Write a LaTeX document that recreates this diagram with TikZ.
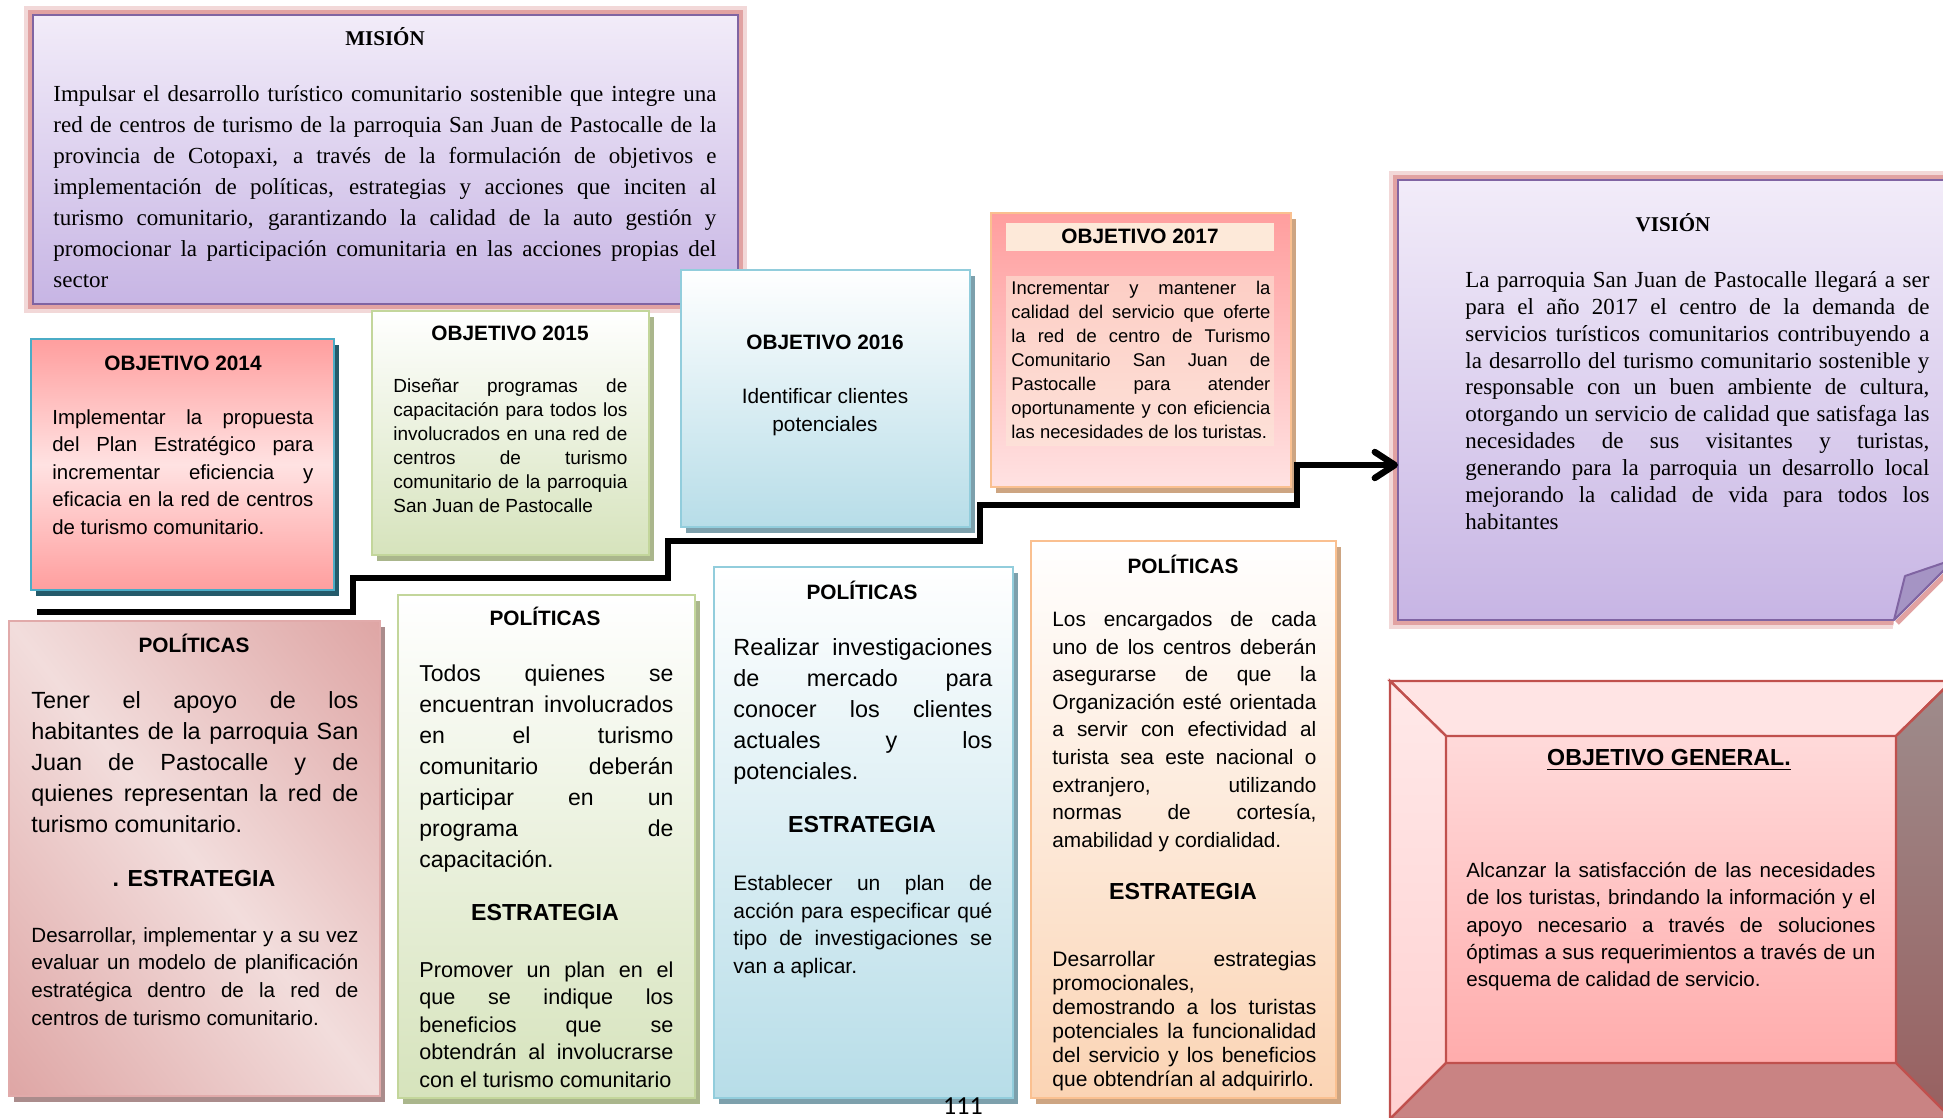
\documentclass[tikz,border=0pt]{standalone}
\usepackage{fontspec}
\setmainfont{Liberation Serif}
\setsansfont{Liberation Sans}
\newfontfamily\pagenumfont{Carlito}
\usetikzlibrary{arrows.meta, shadows}

\definecolor{MisionTop}{RGB}{242, 236, 249}
\definecolor{MisionBottom}{RGB}{199, 181, 228}
\definecolor{MisionLine}{RGB}{128, 100, 162}
\definecolor{GlowRed}{RGB}{205, 100, 100}
\definecolor{FlapPurple}{RGB}{165, 148, 196}
\definecolor{SalmonDeep}{RGB}{255, 158, 158}
\definecolor{SalmonLight}{RGB}{255, 226, 226}
\definecolor{TealLine}{RGB}{75, 172, 198}
\definecolor{TealShadow}{RGB}{36, 90, 106}
\definecolor{GreenFill}{RGB}{214, 227, 188}
\definecolor{GreenLine}{RGB}{195, 214, 155}
\definecolor{GreenShadow}{RGB}{170, 182, 140}
\definecolor{BlueFill}{RGB}{183, 221, 232}
\definecolor{BlueLine}{RGB}{146, 205, 220}
\definecolor{BlueShadow}{RGB}{125, 160, 172}
\definecolor{OrangeFill}{RGB}{251, 212, 180}
\definecolor{OrangeLine}{RGB}{250, 192, 144}
\definecolor{OrangeShadow}{RGB}{205, 165, 130}
\definecolor{PeachBand}{RGB}{253, 233, 217}
\definecolor{RoseDark}{RGB}{215, 145, 144}
\definecolor{RoseLight}{RGB}{242, 221, 220}
\definecolor{RoseLine}{RGB}{225, 170, 170}
\definecolor{RoseShadow}{RGB}{170, 140, 140}
\definecolor{BevelEdge}{RGB}{192, 80, 77}
\definecolor{BevelTop}{RGB}{255, 228, 228}
\definecolor{BevelLeftTop}{RGB}{255, 233, 233}
\definecolor{BevelLeftBottom}{RGB}{255, 208, 208}
\definecolor{BevelRightTop}{RGB}{158, 140, 140}
\definecolor{BevelRightBottom}{RGB}{152, 96, 96}
\definecolor{BevelBottom}{RGB}{201, 131, 131}
\definecolor{FaceTop}{RGB}{255, 218, 218}
\definecolor{FaceBottom}{RGB}{255, 172, 172}

\tolerance=9999
\hyphenpenalty=10000

\tikzset{
  panel/.style={anchor=north west, inner sep=0pt, outer sep=0pt, line width=1.2pt},
  glowbox/.style={panel, draw=MisionLine, top color=MisionTop, bottom color=MisionBottom,
    preaction={draw=GlowRed!25, line width=9pt}, preaction={draw=GlowRed!60, line width=5pt}},
  hardshadow/.style={drop shadow={shadow xshift=2.5pt, shadow yshift=-3pt, fill=#1, opacity=1}},
  headserif/.style={font=\rmfamily\bfseries\fontsize{10.5}{12}\selectfont},
  headsans/.style={font=\sffamily\bfseries\fontsize{10.4}{12}\selectfont},
  strathead/.style={font=\sffamily\bfseries\fontsize{11.6}{13}\selectfont},
  bodytext/.style={anchor=north west, inner sep=0pt, align=justify}
}

\begin{document}
\begin{tikzpicture}[x=0.5pt, y=-0.5pt]
    \useasboundingbox (0,0) rectangle (1943,1118);
    % mision
    \node[glowbox, minimum width=352.5pt, minimum height=144.5pt] (mision) at (33,15) {};
    \node[headserif] (misiontitle) at (385,37) {MISIÓN};
    \node[bodytext, text width=331.5pt, font=\rmfamily\fontsize{11.5}{15.5}\selectfont] (misiontext) at (53,85)
        {Impulsar el desarrollo turístico comunitario sostenible que integre una\linebreak
         red de centros de turismo de la parroquia San Juan de Pastocalle de la\linebreak
         provincia de Cotopaxi, a través de la formulación de objetivos e\linebreak
         implementación de políticas, estrategias y acciones que inciten al\linebreak
         turismo comunitario, garantizando la calidad de la auto gestión y\linebreak
         promocionar la participación comunitaria en las acciones propias del\linebreak
         sector};

    % vision
    \node[glowbox, minimum width=281pt, minimum height=220pt] (vision) at (1398,180) {};
    \fill[white] (1894,620) -- (1968,546) -- (1968,652) -- (1890,652) -- cycle;
    \draw[GlowRed!60, line width=2.5pt] (1897,623) -- (1963,557);
    \draw[MisionLine, line width=1.2pt] (1894,620) -- (1960,554);
    \filldraw[fill=FlapPurple, draw=MisionLine, line width=1pt, line join=round]
        (1894,620) -- (1905,576) -- (1955,559) -- cycle;
    \node[headserif] (visiontitle) at (1673,223) {VISIÓN};
    \node[bodytext, text width=232pt, font=\rmfamily\fontsize{11.5}{13.45}\selectfont] (visiontext) at (1465,271)
        {La parroquia San Juan de Pastocalle llegará a ser\linebreak
         para el año 2017 el centro de la demanda de\linebreak
         servicios turísticos comunitarios contribuyendo a\linebreak
         la desarrollo del turismo comunitario sostenible y\linebreak
         responsable con un buen ambiente de cultura,\linebreak
         otorgando un servicio de calidad que satisfaga las\linebreak
         necesidades de sus visitantes y turistas,\linebreak
         generando para la parroquia un desarrollo local\linebreak
         mejorando la calidad de vida para todos los\linebreak
         habitantes};

    % objetivo 2014
    \node[panel, draw=TealLine, hardshadow=TealShadow, top color=SalmonDeep, bottom color=SalmonDeep,
          middle color=SalmonLight, minimum width=151.5pt, minimum height=125.5pt] (obj14) at (31,339) {};
    \node[headsans] (obj14title) at (183,363) {OBJETIVO 2014};
    \node[bodytext, text width=130.5pt, font=\sffamily\fontsize{10.2}{13.8}\selectfont] (obj14text) at (52,409)
        {Implementar la propuesta\linebreak
         del Plan Estratégico para\linebreak
         incrementar eficiencia y\linebreak
         eficacia en la red de centros\linebreak
         de turismo comunitario.};

    % objetivo 2015
    \node[panel, draw=GreenLine, hardshadow=GreenShadow, top color=white, bottom color=GreenFill,
          minimum width=138.5pt, minimum height=122pt] (obj15) at (372,311) {};
    \node[headsans] (obj15title) at (510,333) {OBJETIVO 2015};
    \node[bodytext, text width=117pt, font=\sffamily\fontsize{9.5}{12}\selectfont] (obj15text) at (393,378)
        {Diseñar programas de\linebreak
         capacitación para todos los\linebreak
         involucrados en una red de\linebreak
         centros de turismo\linebreak
         comunitario de la parroquia\linebreak
         San Juan de Pastocalle};

    % objetivo 2016
    \node[panel, draw=BlueLine, hardshadow=BlueShadow, top color=white, bottom color=BlueFill,
          minimum width=144.5pt, minimum height=128.5pt] (obj16) at (681,270) {};
    \node[headsans] (obj16title) at (825,342) {OBJETIVO 2016};
    \node[anchor=north, inner sep=0pt, align=center, font=\sffamily\fontsize{10.4}{13.8}\selectfont]
        (obj16text) at (825,388) {Identificar clientes\\potenciales};

    % objetivo 2017
    \node[panel, draw=OrangeLine, hardshadow=OrangeShadow, top color=SalmonDeep, bottom color=SalmonLight,
          minimum width=150pt, minimum height=137pt] (obj17) at (991,213) {};
    \node[panel, fill=PeachBand, minimum width=134pt, minimum height=14pt] (obj17band) at (1006,223) {};
    \node[panel, fill=PeachBand, fill opacity=0.55, minimum width=134pt, minimum height=85pt] (obj17back) at (1006,276) {};
    \node[headsans] (obj17title) at (1140,236) {OBJETIVO 2017};
    \node[bodytext, text width=129.5pt, font=\sffamily\fontsize{9.2}{12}\selectfont] (obj17text) at (1011,280.5)
        {Incrementar y mantener la\linebreak
         calidad del servicio que oferte\linebreak
         la red de centro de Turismo\linebreak
         Comunitario San Juan de\linebreak
         Pastocalle para atender\linebreak
         oportunamente y con eficiencia\linebreak
         las necesidades de los turistas.};

    % politicas 1 (diagonal shading along the box diagonal)
    \node[panel, hardshadow=RoseShadow, minimum width=185.5pt, minimum height=237.5pt] (pol1) at (9,621) {};
    \begin{scope}
        \clip (pol1.north west) rectangle (pol1.south east);
        \shade[transform canvas={rotate around={38:(pol1.center)}}, left color=RoseDark, right color=RoseDark,
               middle color=RoseLight]
            ([shift={(-200pt,-200pt)}]pol1.center) rectangle ([shift={(200pt,200pt)}]pol1.center);
    \end{scope}
    \draw[RoseLine, line width=1.2pt] (pol1.north west) rectangle (pol1.south east);
    \node[headsans] (pol1title) at (194,643) {POLÍTICAS};
    \node[bodytext, text width=163.5pt, font=\sffamily\fontsize{11.7}{15.5}\selectfont] (pol1text) at (31,691)
        {Tener el apoyo de los\linebreak
         habitantes de la parroquia San\linebreak
         Juan de Pastocalle y de\linebreak
         quienes representan la red de\linebreak
         turismo comunitario.};
    \node[strathead] (pol1head) at (194,879) {. ESTRATEGIA};
    \node[bodytext, text width=163.5pt, font=\sffamily\fontsize{10.3}{13.8}\selectfont] (pol1strat) at (31,927)
        {Desarrollar, implementar y a su vez\linebreak
         evaluar un modelo de planificación\linebreak
         estratégica dentro de la red de\linebreak
         centros de turismo comunitario.};

    % politicas 2
    \node[panel, draw=GreenLine, hardshadow=GreenShadow, top color=white, bottom color=GreenFill,
          minimum width=148.5pt, minimum height=251.5pt] (pol2) at (398,595) {};
    \node[headsans] (pol2title) at (545,616) {POLÍTICAS};
    \node[bodytext, text width=127pt, font=\sffamily\fontsize{11.5}{15.5}\selectfont] (pol2text) at (419,664)
        {Todos quienes se\linebreak
         encuentran involucrados\linebreak
         en el turismo\linebreak
         comunitario deberán\linebreak
         participar en un\linebreak
         programa de\linebreak
         capacitación.};
    \node[strathead] (pol2head) at (545,913) {ESTRATEGIA};
    \node[bodytext, text width=127pt, font=\sffamily\fontsize{10.8}{13.8}\selectfont] (pol2strat) at (419,961)
        {Promover un plan en el\linebreak
         que se indique los\linebreak
         beneficios que se\linebreak
         obtendrán al involucrarse\linebreak
         con el turismo comunitario};

    % politicas 3
    \node[panel, draw=BlueLine, hardshadow=BlueShadow, top color=white, bottom color=BlueFill,
          minimum width=149.5pt, minimum height=265.5pt] (pol3) at (714,567) {};
    \node[headsans] (pol3title) at (862,590) {POLÍTICAS};
    \node[bodytext, text width=129.5pt, font=\sffamily\fontsize{11.7}{15.5}\selectfont] (pol3text) at (733,638)
        {Realizar investigaciones\linebreak
         de mercado para\linebreak
         conocer los clientes\linebreak
         actuales y los\linebreak
         potenciales.};
    \node[strathead] (pol3head) at (862,825) {ESTRATEGIA};
    \node[bodytext, text width=129.5pt, font=\sffamily\fontsize{10.5}{13.8}\selectfont] (pol3strat) at (733,875)
        {Establecer un plan de\linebreak
         acción para especificar qué\linebreak
         tipo de investigaciones se\linebreak
         van a aplicar.};

    % politicas 4
    \node[panel, draw=OrangeLine, hardshadow=OrangeShadow, top color=white, bottom color=OrangeFill,
          minimum width=152.5pt, minimum height=278.5pt] (pol4) at (1031,541) {};
    \node[headsans] (pol4title) at (1183,564) {POLÍTICAS};
    \node[bodytext, text width=132pt, font=\sffamily\fontsize{10.4}{13.8}\selectfont] (pol4text) at (1052,611)
        {Los encargados de cada\linebreak
         uno de los centros deberán\linebreak
         asegurarse de que la\linebreak
         Organización esté orientada\linebreak
         a servir con efectividad al\linebreak
         turista sea este nacional o\linebreak
         extranjero, utilizando\linebreak
         normas de cortesía,\linebreak
         amabilidad y cordialidad.};
    \node[strathead] (pol4head) at (1183,892) {ESTRATEGIA};
    \node[bodytext, text width=132pt, font=\sffamily\fontsize{10.5}{12}\selectfont] (pol4strat) at (1052,951)
        {Desarrollar estrategias\linebreak
         promocionales,\newline
         demostrando a los turistas\linebreak
         potenciales la funcionalidad\linebreak
         del servicio y los beneficios\linebreak
         que obtendrían al adquirirlo.};

    % objetivo general (bevel frame)
    \node[panel, minimum width=281pt, minimum height=219pt] (general) at (1390,681) {};
    \node[panel, draw=BevelEdge, top color=FaceTop, bottom color=FaceBottom,
          minimum width=225pt, minimum height=163.5pt] (face) at (1446,736) {};
    \path[draw=BevelEdge, line width=1.2pt, fill=BevelTop]
        (general.north west) -- (general.north east) -- (face.north east) -- (face.north west) -- cycle;
    \path[draw=BevelEdge, line width=1.2pt, top color=BevelLeftTop, bottom color=BevelLeftBottom]
        (general.north west) -- (face.north west) -- (face.south west) -- (general.south west) -- cycle;
    \path[draw=BevelEdge, line width=1.2pt, top color=BevelRightTop, bottom color=BevelRightBottom]
        (general.north east) -- (face.north east) -- (face.south east) -- (general.south east) -- cycle;
    \path[draw=BevelEdge, line width=1.2pt, fill=BevelBottom]
        (face.south west) -- (face.south east) -- (general.south east) -- (general.south west) -- cycle;
    \node[strathead] (generaltitle) at (1669,760) {\underline{OBJETIVO GENERAL.}};
    \node[bodytext, text width=204.5pt, font=\sffamily\fontsize{10.3}{13.65}\selectfont] (generaltext) at (1466,862)
        {Alcanzar la satisfacción de las necesidades\linebreak
         de los turistas, brindando la información y el\linebreak
         apoyo necesario a través de soluciones\linebreak
         óptimas a sus requerimientos a través de un\linebreak
         esquema de calidad de servicio.};

    % staircase towards the vision
    \coordinate (stairstart) at (37,612);
    \draw[line width=3.2pt, -{Straight Barb[length=10pt, width=13pt, round]}]
        (stairstart) -- (353,612) -- (353,578) -- (668,578) -- (668,541) -- (980,541)
        -- (980,505) -- (1297,505) -- (1297,465) -- (vision.west |- 0,465);

    % page number
    \node[font=\pagenumfont\fontsize{13}{14}\selectfont] (pagenum) at (963,1106) {111};
\end{tikzpicture}
\end{document}
